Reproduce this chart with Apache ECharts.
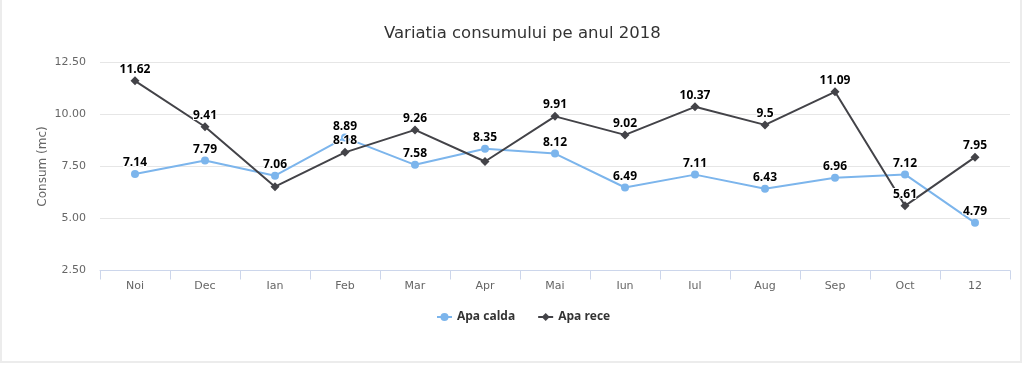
<!DOCTYPE html>
<html>
<head>
<meta charset="utf-8">
<script src="https://cdn.jsdelivr.net/npm/echarts@6/dist/echarts.min.js"></script>
<style>
  html, body { margin: 0; padding: 0; background: #fff; }
  #chart { width: 1024px; height: 365px; }
</style>
</head>
<body>
<div id="chart"></div>
<script>
const categories = ['Noi', 'Dec', 'Ian', 'Feb', 'Mar', 'Apr', 'Mai', 'Iun', 'Iul', 'Aug', 'Sep', 'Oct', '12'];
const apaCalda = [7.14, 7.79, 7.06, 8.89, 7.58, 8.35, 8.12, 6.49, 7.11, 6.43, 6.96, 7.12, 4.79];
const apaRece = [11.62, 9.41, 6.53, 8.18, 9.26, 7.74, 9.91, 9.02, 10.37, 9.5, 11.09, 5.61, 7.95];
const hiddenReceLabels = [2, 5];
const yTicks = [2.5, 5, 7.5, 10, 12.5];

const FONT = 'DejaVu Sans';
const labelStyle = {
  show: true,
  position: 'top',
  distance: 1,
  fontFamily: 'Open Sans',
  fontSize: 12,
  fontWeight: 'bold',
  color: '#000',
  textBorderColor: '#fff',
  textBorderWidth: 2,
  formatter: p => String(p.value)
};

const chart = echarts.init(document.getElementById('chart'), null, { renderer: 'canvas' });
chart.setOption({
  animation: false,
  backgroundColor: '#fff',
  title: {
    text: 'Variatia consumului pe anul 2018',
    left: 379,
    top: 20,
    textStyle: { fontFamily: FONT, fontSize: 16.5, fontWeight: 'normal', color: '#333' }
  },
  legend: {
    top: 306,
    left: 431,
    itemGap: 22,
    itemWidth: 15,
    itemHeight: 10,
    textStyle: { fontFamily: 'Open Sans', fontSize: 12, fontWeight: 'bold', color: '#333' },
    data: ['Apa calda', 'Apa rece']
  },
  grid: { left: 100, right: 14, top: 62.5, bottom: 94.5 },
  xAxis: {
    type: 'category',
    data: categories,
    boundaryGap: true,
    axisLine: { lineStyle: { color: '#ccd6eb', width: 1 } },
    axisTick: { show: true, length: 9, lineStyle: { color: '#ccd6eb' } },
    axisLabel: { color: '#666', fontFamily: FONT, fontSize: 11, margin: 10 },
    splitLine: { show: false }
  },
  yAxis: {
    type: 'value',
    min: yTicks[0],
    max: yTicks[yTicks.length - 1],
    interval: 2.5,
    name: 'Consum (mc)',
    nameLocation: 'middle',
    nameGap: 51,
    nameMoveOverlap: false,
    nameTextStyle: { color: '#666', fontFamily: FONT, fontSize: 12 },
    axisLine: { show: false },
    axisTick: { show: false },
    axisLabel: { color: '#666', fontFamily: FONT, fontSize: 11, margin: 14, formatter: v => v.toFixed(2) },
    splitLine: { lineStyle: { color: '#e6e6e6', width: 1 } }
  },
  series: [
    {
      name: 'Apa calda',
      type: 'line',
      data: apaCalda,
      symbol: 'circle',
      symbolSize: 8,
      itemStyle: { color: '#7cb5ec' },
      lineStyle: { color: '#7cb5ec', width: 2 },
      label: labelStyle,
      z: 2
    },
    {
      name: 'Apa rece',
      type: 'line',
      data: apaRece.map((v, i) => hiddenReceLabels.includes(i) ? { value: v, label: { show: false } } : v),
      symbol: 'diamond',
      symbolSize: 9,
      itemStyle: { color: '#434348' },
      lineStyle: { color: '#434348', width: 2 },
      label: labelStyle,
      z: 3
    }
  ],
  graphic: [{
    type: 'rect',
    shape: { x: 1, y: -3, width: 1020, height: 365 },
    style: { fill: 'none', stroke: '#ececec', lineWidth: 2 },
    silent: true
  }]
});
</script>
</body>
</html>
